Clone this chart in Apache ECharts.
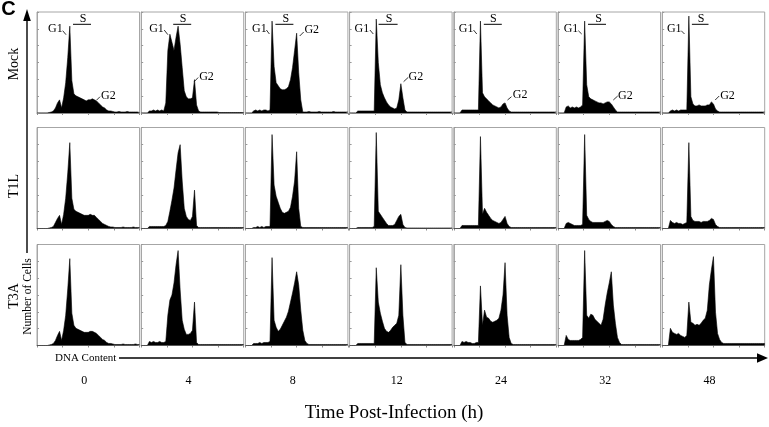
<!DOCTYPE html>
<html><head><meta charset="utf-8">
<script src="https://cdn.jsdelivr.net/npm/echarts@6/dist/echarts.min.js"></script>
<style>html,body{margin:0;padding:0;background:#fff}#c{width:769px;height:427px}</style>
</head><body><div id="c"></div>
<script>
// ---- labels ----
const rowNames = ['Mock', 'T1L', 'T3A'];
const timeLabels = ['0', '4', '8', '12', '24', '32', '48'];
const panelLabel = 'C';
const yAxisTitle = 'Number of Cells';
const xAxisTitle = 'DNA Content';
const bottomTitle = 'Time Post-Infection (h)';

// ---- histogram values (51 DNA-content bins, height in % of panel) ----
// Mock
const mock0 = [0,0,0,0,0,0,0.5,1,2,5, 10,13,5,15,30,55,86,32,19,17, 16,15,14,13,12,13,13,14,13,12, 10,8,6,5,3,2,2,1.5,1,1, 1.5,1,1,1,1.5,1,1,1,1,1,0.5];
const mock4 = [0,0,0,0,2,2,3,2,3,2, 3,2,10,62,78,70,62,75,86,68, 45,22,16,14,14,15,33,8,2,1, 1,1,1,1,1,1,1,1,0.5,0.5, 0.5,0.5,0.5,0.5,0.5,0.5,0.5,0.5,0.5,0.5,0.5];
const mock8 = [0,0,0,0,2,3,2,3,2,3, 3,2,3,91,46,30,27,24,23,23, 24,26,33,45,62,79,40,13,1,1, 1,1.5,1,1,1,1,1.5,1,1,1, 1,1,1,1.5,1,1,1,1,1,1,1];
const mock12 = [0,0,0,0,2,2,2,2,2,2, 2,2,2,93,50,28,20,15,11,8, 6,5,4,5,13,29,15,3,1,1, 1,1,1,1,1,1,1,1,1,1, 1,1,1,1,1,1,1,1,1,1,1];
const mock24 = [0,0,0,0,3,3,3,3,3,3, 3,3,3,91,20,16,14,12,10,8, 7,6,5,6,9,10,5,2,1,1, 1,1,1,1,1,1,1,1,1,1, 1,1,1,1,1,1,1,1,1,1,1];
const mock32 = [0,0,0,0,6,7,5,6,5,6, 5,6,8,91,28,16,14,13,12,11, 10,10,9,10,11,11,9,6,3,1, 1,1,1,1,1,1,1,1,1,1, 1,1,1,1,1,1,1,1,1,1,1];
const mock48 = [0,0,0,0,2,3,2,3,2,3, 3,3,3,96,16,9,7,7,8,7, 7,7,8,8,11,9,4,2,1,1, 1,1,1,1,1,1,1,1,1,1, 1,1,1,1,1,1,1,1,1,1,1];
// T1L
const t1l0 = [0,0,0,0,0,0,0.5,1,2,6, 10,13,4,14,30,55,85,30,19,17, 16,15,14,13,13,13,14,13,13,11, 9,7,5,4,3,2,1.5,1.5,1,1, 1,1,1.5,1,1,1,1,1.5,1,1,1];
const t1l4 = [0,0,0,0,2,2,2,2,2,2, 2,2,3,7,17,28,40,58,75,83, 47,20,12,9,8,12,38,3,1,1, 1,1,1,1,1,1,1,1,1,1, 1,1,1,1,1,1,1,1,1,1,1];
const t1l8 = [0,0,0,0,1,1,2,1,2,1, 2,2,2,93,43,32,26,20,16,15, 16,17,21,32,47,76,20,2,1,1, 1,1,1,1,1,1,1,1,1,1, 1,1,1,1,1,1,1,1,1,1,1];
const t1l12 = [0,0,0,0,1,1,1,1,1,1, 1,1,2,95,17,14,11,8,5,3, 3,3,4,8,12,14,4,1,0.5,0.5, 0.5,0.5,0.5,0.5,0.5,0.5,0.5,0.5,0.5,0.5, 0.5,0.5,0.5,0.5,0.5,0.5,0.5,0.5,0.5,0.5,0.5];
const t1l24 = [0,0,0,0,3,3,3,3,3,3, 3,3,3,91,14,20,16,13,10,8, 7,6,5,6,9,12,5,2,1,1, 1,1,1,1,1,1,1,1,1,1, 1,1,1,1,1,1,1,1,1,1,1];
const t1l32 = [0,0,0,0,5,6,5,4,3,3, 3,3,4,93,13,9,7,6,6,6, 6,6,6,7,8,7,4,2,1,1, 1,1,1,1,1,1,1,1,1,1, 1,1,1,1,1,1,1,1,1,1,1];
const t1l48 = [0,0,0,0,8,6,5,6,5,5, 4,5,6,85,12,8,7,7,7,6, 7,7,7,8,10,9,4,2,1,1, 1,1,1,1,1,1,1,1,1,1, 1,1,1,1,1,1,1,1,1,1,1];
// T3A
const t3a0 = [0,0,0,0,0,0,0.5,1,2,5, 10,14,5,15,30,56,86,32,20,17, 16,15,14,13,13,13,14,14,13,12, 10,8,6,5,3,2,2,1.5,1,1, 1,1,1.5,1,1,1,1,1,1.5,1,1];
const t3a4 = [0,0,0,0,4,3,4,3,3,4, 3,3,4,30,45,50,62,80,94,55, 25,16,11,11,12,15,43,3,1,1, 1,1,1,1,1,1,1,1,1,1, 1,1,1,1,1,1,1,1,1,1,1];
const t3a8 = [0,0,0,0,2,2,2,3,2,3, 3,3,4,87,25,18,14,16,20,24, 28,34,43,52,62,73,60,35,15,5, 2,1,1,1,1,1,1,1,1,1, 1,1,1,1,1,1,1,1,1,1,1];
const t3a12 = [0,0,0,0,2,2,2,2,2,2, 2,2,2,77,43,32,24,17,14,13, 15,18,20,22,30,80,30,3,1,1, 1,1,1,1,1,1,1,1,1,1, 1,1,1,1,1,1,1,1,1,1,1];
const t3a24 = [0,0,0,0,4,3,4,3,3,2, 2,3,3,59,20,35,28,27,24,23, 24,25,27,35,50,82,30,8,2,1, 1,1,1,1,1,1,1,1,1,1, 1,1,1,1,1,1,1,1,1,1,1];
const t3a32 = [0,0,0,0,10,6,5,5,5,5, 5,6,8,94,30,27,31,30,26,24, 22,20,26,40,52,62,73,40,22,8, 3,1,1,1,1,1,1,1,1,1, 1,1,1,1,1,1,1,1,1,1,1];
const t3a48 = [0,0,0,0,17,13,12,11,12,10, 9,8,10,43,23,22,20,21,20,22, 25,27,35,60,75,88,33,12,6,3, 2,2,2,2,2,2,2,2,2,2, 2,2,2,2,2,2,2,2,2,2,2];

const rows = [
  [mock0, mock4, mock8, mock12, mock24, mock32, mock48],
  [t1l0, t1l4, t1l8, t1l12, t1l24, t1l32, t1l48],
  [t3a0, t3a4, t3a8, t3a12, t3a24, t3a32, t3a48]
];

// ---- layout (pixels) ----
const L = { colLeft: 37, colStep: 104.2, w: 102.5, h: 101, rowTop: [12, 127.5, 244.5] };
// phase annotations on the Mock row, offsets relative to each panel's top-left
const ann = [
  { g1: [11, 17], g1l: [25.7, 18.7, 29, 22.7], s: [46, 7], sb: [36, 54, 12.3], g2: [64, 84], g2l: [59.7, 88, 63, 84.7] },
  { g1: [8, 17], g1l: [23, 18, 26.7, 22.7], s: [42, 7], sb: [32, 50, 12.3], g2: [58, 65], g2l: [53, 69.7, 57, 65.5] },
  { g1: [6.7, 17], g1l: [21, 18, 24, 22], s: [40.5, 7], sb: [30, 48, 12.3], g2: [59, 18], g2l: [54.3, 24, 58.3, 20] },
  { g1: [5, 17], g1l: [20.3, 18, 23.7, 22], s: [39.5, 7], sb: [29, 48, 12.3], g2: [59, 64.5], g2l: [54, 69.7, 58.7, 65.3] },
  { g1: [5, 17], g1l: [19.7, 18, 23, 22], s: [39.5, 7], sb: [30, 48, 12.3], g2: [59, 83], g2l: [53.7, 88, 57.7, 84.7] },
  { g1: [5.7, 17], g1l: [20.3, 18.7, 23.7, 22], s: [40.5, 7], sb: [30, 48, 12.3], g2: [60, 84], g2l: [55.3, 88, 59.7, 84] },
  { g1: [4.7, 17], g1l: [19, 18.7, 22.3, 22], s: [39, 7], sb: [29.7, 46.3, 12.3], g2: [58, 84], g2l: [53, 88, 57, 84] }
];

const serif = '"Liberation Serif", "Times New Roman", serif';
const grids = [], xAxes = [], yAxes = [], series = [], graphics = [];

rows.forEach((row, r) => row.forEach((vals, c) => {
  const i = r * 7 + c;
  grids.push({ left: L.colLeft + c * L.colStep, top: L.rowTop[r], width: L.w, height: L.h,
    show: true, borderColor: '#a6a6a6', borderWidth: 1, backgroundColor: '#fff' });
  xAxes.push({ gridIndex: i, type: 'value', min: 0, max: 50, interval: 12.5,
    axisLine: { show: true, lineStyle: { color: '#8c8c8c', width: 1 } },
    axisTick: { show: true, length: 2, lineStyle: { color: '#8c8c8c' } },
    axisLabel: { show: false }, splitLine: { show: false } });
  yAxes.push({ gridIndex: i, type: 'value', min: 0, max: 100, interval: 100 / 6,
    axisLine: { show: true, lineStyle: { color: '#a6a6a6' } },
    axisTick: { show: true, inside: true, length: 2, lineStyle: { color: '#999' } },
    axisLabel: { show: false }, splitLine: { show: false } });
  series.push({ type: 'line', xAxisIndex: i, yAxisIndex: i, symbol: 'none', silent: true,
    data: vals.map((v, k) => [k, v]),
    lineStyle: { color: '#000', width: 0.6 }, areaStyle: { color: '#000', opacity: 1 } });
}));

// text helpers
function txt(text, x, y, font, opts) {
  return Object.assign({ type: 'text', x: x, y: y, silent: true,
    style: { text: text, font: font, fill: '#000', textAlign: 'center', textVerticalAlign: 'middle' } }, opts || {});
}
function seg(x1, y1, x2, y2, w) {
  return { type: 'line', silent: true, shape: { x1: x1, y1: y1, x2: x2, y2: y2 }, style: { stroke: '#000', lineWidth: w || 1 } };
}

// annotations on the first row
ann.forEach((a, c) => {
  const ox = L.colLeft + c * L.colStep, oy = L.rowTop[0];
  const g1 = txt('G1', ox + a.g1[0], oy + a.g1[1], '12px ' + serif); g1.style.textAlign = 'left';
  const g2 = txt('G2', ox + a.g2[0], oy + a.g2[1], '12px ' + serif); g2.style.textAlign = 'left';
  graphics.push(g1, g2,
    seg(ox + a.g1l[0], oy + a.g1l[1], ox + a.g1l[2], oy + a.g1l[3], 0.8),
    seg(ox + a.g2l[0], oy + a.g2l[1], ox + a.g2l[2], oy + a.g2l[3], 0.8),
    txt('S', ox + a.s[0], oy + a.s[1], '12px ' + serif),
    seg(ox + a.sb[0], oy + a.sb[2], ox + a.sb[1], oy + a.sb[2], 1));
});

// row labels
const rowLabelY = [64, 186, 296];
rowNames.forEach((n, r) => graphics.push(txt(n, 14, rowLabelY[r], '14px ' + serif, { rotation: Math.PI / 2 })));
// time labels
timeLabels.forEach((t, c) => graphics.push(txt(t, L.colLeft + c * L.colStep + L.w / 2 - 4, 380.5, '12px ' + serif)));
// axis titles and arrows
graphics.push(
  txt(yAxisTitle, 28, 296.5, '11.5px ' + serif, { rotation: Math.PI / 2 }),
  seg(27, 253, 27, 19, 1.4),
  { type: 'polygon', silent: true, shape: { points: [[23.2, 21], [30.8, 21], [27, 9]] }, style: { fill: '#000' } },
  Object.assign(txt(xAxisTitle, 55, 358, '11px ' + serif), {}),
  seg(119, 358, 759, 358, 1.4),
  { type: 'polygon', silent: true, shape: { points: [[757, 353.3], [757, 362.7], [768, 358]] }, style: { fill: '#000' } },
  txt(bottomTitle, 394, 413, '19px ' + serif),
  txt(panelLabel, 8.5, 9.5, 'bold 20px "Liberation Sans", Arial, sans-serif')
);
graphics[graphics.length - 5].style.textAlign = 'left';

const chart = echarts.init(document.getElementById('c'), null, { renderer: 'canvas' });
chart.setOption({
  animation: false,
  backgroundColor: '#fff',
  grid: grids, xAxis: xAxes, yAxis: yAxes, series: series,
  graphic: { elements: graphics }
});
</script></body></html>
